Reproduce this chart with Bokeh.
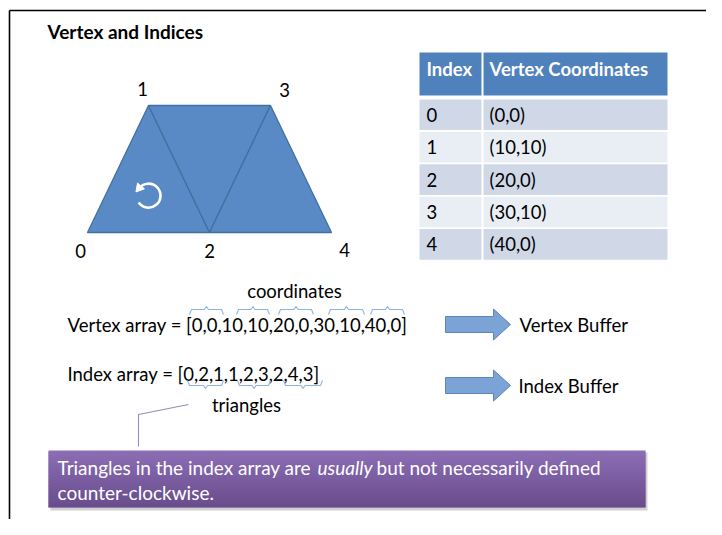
import numpy as np
from bokeh.plotting import figure
from bokeh.models import Range1d
from bokeh.core.properties import value
from bokeh.embed import file_html
from bokeh.resources import INLINE

# ---------------- data ----------------
title = "Vertex and Indices"
vertex_ids = [0, 1, 2, 3, 4]
vertex_x = [0, 10, 20, 30, 40]
vertex_y = [0, 10, 0, 10, 0]
index_array = [0, 2, 1, 1, 2, 3, 2, 4, 3]
table_header = ["Index", "Vertex Coordinates"]
coord_labels = ["(0,0)", "(10,10)", "(20,0)", "(30,10)", "(40,0)"]
vertex_array_label = "Vertex array = [0,0,10,10,20,0,30,10,40,0]"
index_array_label = "Index array = [0,2,1,1,2,3,2,4,3]"
coord_caption = "coordinates"
tri_caption = "triangles"
buffer_labels = ["Vertex Buffer", "Index Buffer"]
note_parts = ["Triangles in the index array are", "usually", "but not necessarily defined"]
note_line2 = "counter-clockwise."

# ---------------- layout (page pixels) ----------------
W, H = 706, 519
FONT = "Lato"
BODY = "18.5px"
NOTE = "19px"

p = figure(width=W, height=H, x_range=Range1d(0, W), y_range=Range1d(H, 0),
           output_backend="svg", toolbar_location=None,
           min_border=0, min_border_left=0, min_border_right=0,
           min_border_top=0, min_border_bottom=0)
p.axis.visible = False
p.grid.visible = False
p.outline_line_color = None
p.background_fill_color = "white"

# geometry scale for the vertex diagram
ox, oy = 87.0, 232.0       # screen position of vertex (0,0)
sx, sy = 6.1, 12.7         # px per unit
p.extra_x_ranges = {"geo": Range1d((0 - ox) / sx, (W - ox) / sx)}
p.extra_y_ranges = {"geo": Range1d((oy - H) / sy, (oy - 0) / sy)}
G = dict(x_range_name="geo", y_range_name="geo")

# frame border
p.line([9, 730], [10, 10], line_color="black", line_width=1.6)
p.line([9, 9], [10, 540], line_color="black", line_width=1.6)

# title
p.text([47], [31], text=[title], text_font=value(FONT), text_font_style="bold",
       text_font_size="19px", text_baseline="middle", text_color="black")

# triangles built from index array
tris = [index_array[k:k + 3] for k in range(0, len(index_array), 3)]
xs = [[vertex_x[i] for i in t] for t in tris]
ys = [[vertex_y[i] for i in t] for t in tris]
p.patches(xs, ys, fill_color="#5a8ac6", line_color="#41709f", line_width=1.3, **G)

# vertex labels
p.text(vertex_x, vertex_y, text=[str(v) for v in vertex_ids],
       x_offset=[-7, -6, 0, 14, 13], y_offset=[18, -17, 18, -16, 17],
       text_font=value(FONT), text_font_size=BODY, text_align="center",
       text_baseline="middle", text_color="black", **G)

# winding arrow
cx, cy = 10.0, 2.9
p.arc([cx], [cy], radius=12, radius_units="screen", start_angle=np.deg2rad(-145),
      end_angle=np.deg2rad(140), direction="anticlock", line_color="white",
      line_width=2.6, **G)
ang = np.deg2rad(140)
p.scatter([cx + 12 * np.cos(ang) / sx], [cy + 12 * np.sin(ang) / sy], marker="triangle",
          size=9, angle=np.deg2rad(140), fill_color="white", line_color="white", **G)

# table
tl, tm, tr = 419, 482, 667
p.quad(left=[tl, tm + 1], right=[tm - 1, tr], top=[52, 52], bottom=[95, 95],
       fill_color="#4f81bd", line_color=None)
p.text([426, 489], [68, 68], text=table_header, text_font=value(FONT),
       text_font_style="bold", text_font_size=BODY, text_baseline="middle",
       text_color="white")
row_top = [99 + 32.4 * i for i in range(len(vertex_ids))]
row_bot = [t + 30.6 for t in row_top]
row_col = ["#d0d8e8" if i % 2 == 0 else "#e9edf4" for i in range(len(vertex_ids))]
p.quad(left=[tl] * 5, right=[tm - 1] * 5, top=row_top, bottom=row_bot, fill_color=row_col, line_color=None)
p.quad(left=[tm + 1] * 5, right=[tr] * 5, top=row_top, bottom=row_bot, fill_color=row_col, line_color=None)
row_mid = [(a + b) / 2 for a, b in zip(row_top, row_bot)]
p.text([426] * 5, row_mid, text=[str(v) for v in vertex_ids], text_font=value(FONT),
       text_font_size=BODY, text_baseline="middle", text_color="black")
p.text([489] * 5, row_mid, text=coord_labels, text_font=value(FONT),
       text_font_size=BODY, text_baseline="middle", text_color="black")

# arrays
p.text([294], [290], text=[coord_caption], text_font=value(FONT), text_font_size=BODY,
       text_align="center", text_baseline="middle", text_color="black")
p.text([67], [324], text=[vertex_array_label], text_font=value(FONT), text_font_size=BODY,
       text_baseline="middle", text_color="black")
p.text([67], [373], text=[index_array_label], text_font=value(FONT), text_font_size=BODY,
       text_baseline="middle", text_color="black")
p.text([246], [404], text=[tri_caption], text_font=value(FONT), text_font_size=BODY,
       text_align="center", text_baseline="middle", text_color="black")

# braces
def brace(x0, x1, y, d):
    m = (x0 + x1) / 2
    return ([x0, x0 + 2, m - 2, m, m + 2, x1 - 2, x1],
            [y + 5 * d, y, y, y - 3 * d, y, y, y + 5 * d])

v_spans = [(189, 223), (236, 269), (278, 313), (328, 364), (370, 404)]
i_spans = [(187, 223), (237, 270), (283, 322)]
bx, by = [], []
for a, b in v_spans:
    x_, y_ = brace(a, b, 309, 1); bx.append(x_); by.append(y_)
for a, b in i_spans:
    x_, y_ = brace(a, b, 385, -1); bx.append(x_); by.append(y_)
p.multi_line(bx, by, line_color="#8db3e2", line_width=1.1)

# block arrows
def block_arrow(y):
    return ([445, 493, 493, 510, 493, 493, 445],
            [y - 8, y - 8, y - 15.5, y, y + 15.5, y + 8, y + 8])

ax, ay = [], []
for yc in (324, 385):
    a_, b_ = block_arrow(yc); ax.append(a_); ay.append(b_)
p.patches(ax, ay, fill_color="#7ca3d6", line_color="#5b86be", line_width=1)
p.text([519, 518], [324, 385], text=buffer_labels, text_font=value(FONT),
       text_font_size=BODY, text_baseline="middle", text_color="black")

# callout line
p.line([188, 138, 138], [404, 414, 446], line_color="#9c88bb", line_width=1.1)

# note box: shadow + vertical gradient
bl, br, bt, bb = 48, 645, 450, 507
p.quad(left=[bl + 2], right=[br + 2], top=[bt + 2], bottom=[bb + 3], fill_color="#999999",
       fill_alpha=0.45, line_color=None)
n = 40
c0 = np.array([140, 110, 182]); c1 = np.array([106, 77, 140])
edges = np.linspace(bt, bb, n + 1)
cols = ["#%02x%02x%02x" % tuple((c0 + (c1 - c0) * (i / (n - 1))).astype(int)) for i in range(n)]
bots = list(edges[1:] + 1.2); bots[-1] = bb
p.quad(left=[bl] * n, right=[br] * n, top=edges[:-1], bottom=bots, fill_color=cols, line_color=None)
p.text([57, 317, 376], [467] * 3, text=note_parts, text_font=value(FONT),
       text_font_style=["normal", "italic", "normal"], text_font_size=NOTE,
       text_baseline="middle", text_color="white")
p.text([57], [492], text=[note_line2], text_font=value(FONT), text_font_size=NOTE,
       text_baseline="middle", text_color="white")

open("out.html", "w").write(file_html(p, INLINE))
